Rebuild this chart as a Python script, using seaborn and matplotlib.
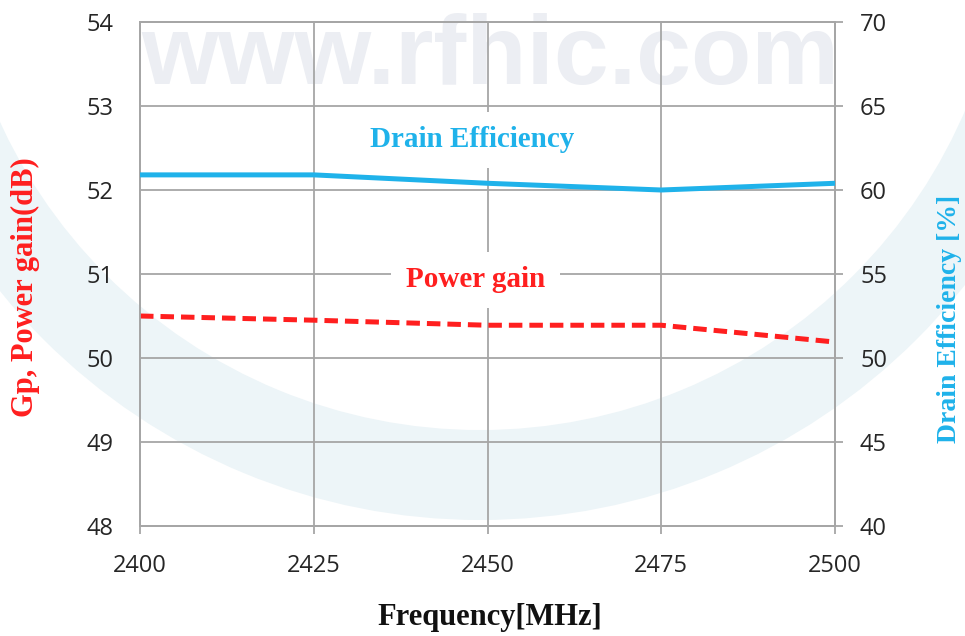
import pandas as pd
import matplotlib.pyplot as plt
import seaborn as sns
from matplotlib.patches import Annulus

# values
freq = [2400, 2425, 2450, 2475, 2500]
power_gain = [50.50, 50.45, 50.39, 50.39, 50.19]
drain_eff = [60.9, 60.9, 60.4, 60.0, 60.4]

x_ticks = [2400, 2425, 2450, 2475, 2500]
gain_ticks = [48, 49, 50, 51, 52, 53, 54]
eff_ticks = [40, 45, 50, 55, 60, 65, 70]

df = pd.DataFrame({'freq': freq, 'gain': power_gain, 'eff': drain_eff})

sns.set_theme(style='white')
plt.rcParams['font.family'] = ['Open Sans', 'DejaVu Sans']

RED = '#ff1f1f'
BLUE = '#1fb2ea'
GRID = '#a6a6a6'
SERIF = ['Liberation Serif', 'DejaVu Serif']

fig = plt.figure(figsize=(9.65, 6.36), dpi=100)

# background: watermark and swoosh
bg = fig.add_axes([0, 0, 1, 1])
bg.set_xlim(0, 965)
bg.set_ylim(636, 0)
bg.axis('off')
bg.add_patch(Annulus((480, -98), r=618, width=90, color='#edf5f8', lw=0))
bg.text(490, 84, 'www.rfhic.com', ha='center', va='baseline', fontsize=71,
        fontweight='bold', family=['Liberation Sans', 'DejaVu Sans'], color='#eceef3')

ax = fig.add_axes([140 / 965, 110 / 636, 695 / 965, 504 / 636])
ax.set_facecolor('none')
ax2 = ax.twinx()

sns.lineplot(data=df, x='freq', y='gain', ax=ax, color=RED, lw=3.6,
             dashes=False, zorder=4)
ax.lines[0].set_dashes([2.7, 1.4])
sns.lineplot(data=df, x='freq', y='eff', ax=ax2, color=BLUE, lw=3.6, zorder=4)

ax.set_xlim(2400, 2500)
ax.set_ylim(48, 54)
ax2.set_ylim(40, 70)
ax.set_xticks(x_ticks)
ax.set_yticks(gain_ticks)
ax2.set_yticks(eff_ticks)

ax.grid(True, color=GRID, lw=1.3)
ax.set_axisbelow(True)
for a in (ax, ax2):
    for s in a.spines.values():
        s.set_color(GRID)
        s.set_linewidth(1.3)

ax.tick_params(axis='x', length=6, width=1.3, color=GRID, pad=14, labelsize=17,
               labelcolor='#262626', bottom=True)
ax.tick_params(axis='y', length=0, pad=19, labelsize=17, labelcolor='#262626')
ax2.tick_params(axis='y', length=6, width=1.3, color=GRID, pad=12, labelsize=17,
                labelcolor='#262626', right=True)

ax.set_xlabel('Frequency[MHz]', family=SERIF, fontweight='bold', fontsize=22,
              color='#111111')
ax.set_ylabel('Gp, Power gain(dB)', family=SERIF, fontweight='bold', fontsize=22,
              color=RED)
ax2.set_ylabel('Drain Efficiency [%]', family=SERIF, fontweight='bold', fontsize=20,
               color=BLUE)

# place axis labels by their centres
for lab in (ax.xaxis.label, ax.yaxis.label, ax2.yaxis.label):
    lab.set_rotation_mode('default')
    lab.set_ha('center')
    lab.set_va('center')
ax.xaxis.set_label_coords((490 - 140) / 695, (526 - 617) / 504)
ax.yaxis.set_label_coords((25 - 140) / 695, (526 - 287) / 504)
ax2.yaxis.set_label_coords((950 - 140) / 695, (526 - 319) / 504)

ax.text(2447.8, 52.6, 'Drain Efficiency', ha='center', va='center', family=SERIF,
        fontweight='bold', fontsize=21, color=BLUE, zorder=3,
        bbox=dict(boxstyle='square,pad=0.5', fc='white', ec='none'))
ax.text(2448.3, 50.93, 'Power gain', ha='center', va='center', family=SERIF,
        fontweight='bold', fontsize=21, color=RED, zorder=3,
        bbox=dict(boxstyle='square,pad=0.5', fc='white', ec='none'))

plt.savefig('out.png', dpi=100)
plt.close()
